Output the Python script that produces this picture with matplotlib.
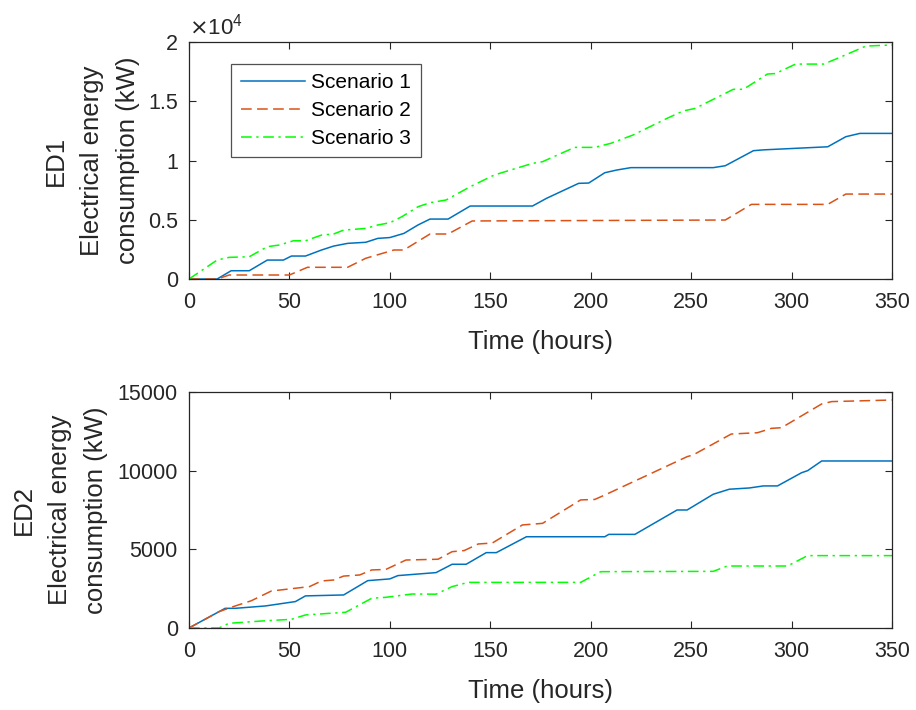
import matplotlib
matplotlib.use('Agg')
import matplotlib.pyplot as plt
from matplotlib.ticker import FuncFormatter

plt.rcParams['font.family'] = ['Liberation Sans', 'DejaVu Sans']

# ED1 - cumulative consumption (kW)
ed1_s1_t = [0, 14, 21, 30, 39, 47, 51, 58, 66, 72, 79, 88, 94, 100, 107, 114, 120, 129, 140, 171,
            178, 194, 199, 207, 213, 220, 261, 267, 281, 286, 318, 327, 334, 350]
ed1_s1_y = [0, 0, 700, 700, 1600, 1600, 1940, 1940, 2450, 2780, 3010, 3100, 3430, 3500, 3850, 4560,
            5060, 5060, 6160, 6160, 6810, 8075, 8100, 8970, 9200, 9400, 9400, 9560, 10830, 10900,
            11160, 12010, 12290, 12290]

ed1_s2_t = [0, 14, 20, 50, 59, 79, 88, 102, 107, 120, 129, 141, 267, 280, 318, 327, 350]
ed1_s2_y = [0, 0, 340, 340, 990, 990, 1750, 2450, 2450, 3800, 3800, 4900, 4980, 6300, 6300, 7170, 7170]

ed1_s3_t = [0, 14, 20, 30, 39, 45, 52, 58, 66, 72, 77, 88, 94, 100, 106, 114, 120, 128, 140, 152,
            171, 176, 192, 202, 210, 221, 238, 246, 252, 271, 276, 288, 292, 302, 316, 323, 337, 350]
ed1_s3_y = [0, 1600, 1830, 1880, 2730, 2870, 3230, 3230, 3710, 3800, 4130, 4270, 4560, 4750, 5260,
            6100, 6440, 6670, 7790, 8780, 9760, 9900, 11110, 11110, 11450, 12150, 13560, 14180,
            14400, 16010, 16010, 17300, 17340, 18140, 18140, 18630, 19660, 19750]

# ED2 - cumulative consumption (kW)
ed2_s1_t = [0, 18, 23, 38, 53, 58, 77, 89, 100, 104, 123, 131, 138, 148, 153, 168, 207, 209, 222,
            243, 248, 261, 269, 279, 286, 293, 305, 308, 315, 350]
ed2_s1_y = [0, 1250, 1250, 1400, 1680, 2040, 2100, 3010, 3120, 3330, 3520, 4050, 4050, 4790, 4790,
            5800, 5800, 5950, 5950, 7500, 7500, 8500, 8820, 8900, 9030, 9030, 9870, 10000, 10615, 10615]

ed2_s2_t = [0, 15, 23, 31, 41, 60, 66, 72, 77, 85, 91, 98, 108, 124, 131, 137, 144, 151, 166, 176,
            195, 202, 207, 248, 251, 270, 283, 290, 295, 315, 320, 350]
ed2_s2_y = [0, 1040, 1400, 1730, 2350, 2630, 2990, 3050, 3300, 3370, 3690, 3720, 4320, 4370, 4850,
            4920, 5340, 5400, 6550, 6650, 8140, 8170, 8450, 10890, 11000, 12330, 12410, 12690, 12730,
            14240, 14390, 14490]

ed2_s3_t = [0, 15, 18, 20, 38, 51, 58, 78, 91, 98, 111, 123, 131, 139, 195, 205, 261, 268, 298, 308, 350]
ed2_s3_y = [0, 0, 190, 300, 460, 550, 830, 1000, 1890, 1950, 2160, 2150, 2630, 2900, 2900, 3580,
            3600, 3940, 3940, 4600, 4600]

labels = ['Scenario 1', 'Scenario 2', 'Scenario 3']
colors = ['#0072BD', '#D95319', '#00FF00']
styles = ['-', (0, (7, 3.5)), (0, (7, 3, 1.5, 3))]

fig = plt.figure(figsize=(9.16, 7.1), dpi=100)
ax1 = fig.add_axes([0.2063, 0.607, 0.7675, 0.3338])
ax2 = fig.add_axes([0.2063, 0.1155, 0.7675, 0.3324])

series = [
    (ax1, [(ed1_s1_t, ed1_s1_y), (ed1_s2_t, ed1_s2_y), (ed1_s3_t, ed1_s3_y)]),
    (ax2, [(ed2_s1_t, ed2_s1_y), (ed2_s2_t, ed2_s2_y), (ed2_s3_t, ed2_s3_y)]),
]

tc = '#262626'
for ax, data in series:
    for (t, y), lab, c, ls in zip(data, labels, colors, styles):
        ax.plot(t, y, color=c, linestyle=ls, linewidth=1.1, label=lab)
    ax.set_xlim(0, 350)
    ax.set_xticks(range(0, 351, 50))
    ax.set_xlabel('Time (hours)', fontsize=18.5, color=tc, labelpad=12)
    ax.tick_params(direction='in', top=True, right=True, labelsize=15.5, colors=tc,
                   length=5, width=0.8)
    ax.tick_params(axis='x', pad=9.5)
    ax.tick_params(axis='y', pad=8)
    for sp in ax.spines.values():
        sp.set_color(tc)
        sp.set_linewidth(0.9)

# top panel: MATLAB-style exponent above the axis
ax1.set_ylim(0, 20000)
ax1.set_yticks([0, 5000, 10000, 15000, 20000])
ax1.yaxis.set_major_formatter(FuncFormatter(lambda v, p: f'{v / 1e4:g}'))
ax1.text(0.0, 1.012, r'$\times\mathregular{10^{4}}$', transform=ax1.transAxes, fontsize=16,
         color=tc, ha='left', va='bottom')
ax1.set_ylabel('ED1\nElectrical energy\nconsumption (kW)', fontsize=18.5, color=tc,
               labelpad=5.5, linespacing=1.65)

ax2.set_ylim(0, 15000)
ax2.set_yticks([0, 5000, 10000, 15000])
ax2.set_ylabel('ED2\nElectrical energy\nconsumption (kW)', fontsize=18.5, color=tc,
               labelpad=6.5, linespacing=1.65)

leg = ax1.legend(loc='upper left', bbox_to_anchor=(0.06, 0.907), fontsize=15,
                 frameon=True, fancybox=False, borderaxespad=0, handlelength=3.1,
                 handletextpad=0.3, labelspacing=0.42, borderpad=0.45)
leg.get_frame().set_edgecolor(tc)
leg.get_frame().set_linewidth(0.9)

fig.savefig('out.png', dpi=100)
